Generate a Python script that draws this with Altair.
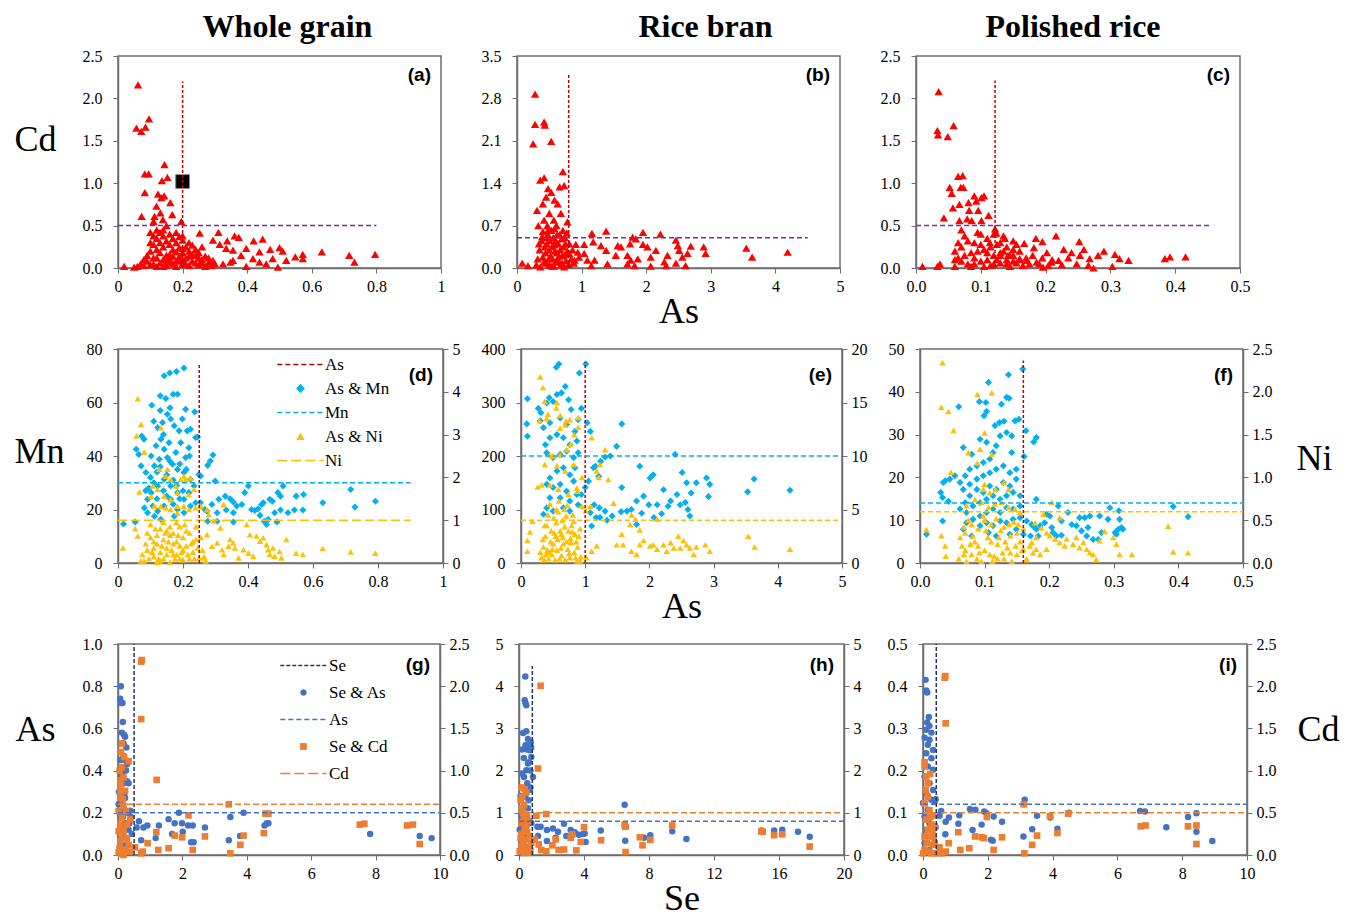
import altair as alt
import pandas as pd

SERIF = "Liberation Serif"
SANS = "Liberation Sans"
AXC = "#6e6e6e"

RED = "#ff0000"; DRED = "#c00000"; PURPLE = "#7030a0"
SKY = "#00b0f0"; GOLD = "#ffc000"; BLUE = "#4472c4"; ORANGE = "#ed7d31"; NAVY = "#203864"

COLUMN_TITLES = ["Whole grain", "Rice bran", "Polished rice"]
PANEL_LABELS = ["(a)", "(b)", "(c)", "(d)", "(e)", "(f)", "(g)", "(h)", "(i)"]

# ---------------- row 1 : Cd vs As ----------------
A_PTS = [
    (0.062, 2.16), (0.057, 1.65), (0.072, 1.61), (0.085, 1.66), (0.096, 1.76),
    (0.083, 1.11), (0.095, 1.11), (0.144, 1.22), (0.083, 0.89), (0.073, 0.61),
    (0.136, 1.03), (0.153, 1.07), (0.124, 0.87), (0.134, 0.83), (0.143, 0.85), (0.162, 0.77),
    (0.119, 0.73), (0.131, 0.65), (0.113, 0.61), (0.168, 0.63), (0.139, 0.57), (0.110, 0.55), (0.196, 0.55),
    (0.019, 0.02), (0.253, 0.41), (0.311, 0.42), (0.338, 0.32), (0.361, 0.38), (0.374, 0.36), (0.420, 0.32),
    (0.448, 0.34), (0.294, 0.33), (0.315, 0.28), (0.335, 0.23), (0.356, 0.21), (0.397, 0.23), (0.438, 0.19),
    (0.471, 0.22), (0.500, 0.24), (0.510, 0.20), (0.549, 0.13), (0.572, 0.16), (0.572, 0.11), (0.631, 0.19),
    (0.716, 0.15), (0.732, 0.07), (0.796, 0.16), (0.495, 0.01), (0.397, 0.02), (0.459, 0.05), (0.418, 0.11),
    (0.381, 0.15), (0.348, 0.07), (0.325, 0.05), (0.284, 0.04), (0.294, 0.09), (0.356, 0.09), (0.521, 0.09),
    (0.479, 0.11), (0.438, 0.07),
    (0.05, 0.01), (0.06, 0.02), (0.07, 0.05), (0.08, 0.03), (0.09, 0.08), (0.10, 0.04), (0.11, 0.12),
    (0.12, 0.02), (0.13, 0.06), (0.14, 0.10), (0.15, 0.03), (0.16, 0.07), (0.17, 0.14), (0.18, 0.02),
    (0.19, 0.09), (0.20, 0.05), (0.21, 0.12), (0.22, 0.03), (0.23, 0.08), (0.24, 0.15), (0.25, 0.04),
    (0.26, 0.10), (0.27, 0.02), (0.28, 0.06), (0.29, 0.03), (0.10, 0.20), (0.11, 0.28), (0.12, 0.35),
    (0.10, 0.42), (0.13, 0.18), (0.14, 0.25), (0.15, 0.32), (0.16, 0.40), (0.14, 0.45), (0.15, 0.50),
    (0.17, 0.22), (0.18, 0.30), (0.19, 0.37), (0.20, 0.18), (0.21, 0.25), (0.20, 0.33), (0.22, 0.20),
    (0.23, 0.27), (0.24, 0.22), (0.25, 0.18), (0.26, 0.25), (0.12, 0.12), (0.13, 0.30), (0.16, 0.16),
    (0.18, 0.19), (0.19, 0.14), (0.20, 0.10), (0.22, 0.14), (0.24, 0.06), (0.12, 0.22), (0.15, 0.15),
    (0.17, 0.35), (0.18, 0.42), (0.16, 0.28), (0.14, 0.38), (0.11, 0.05), (0.09, 0.15), (0.08, 0.10),
    (0.10, 0.30), (0.13, 0.42), (0.21, 0.05), (0.23, 0.16), (0.17, 0.05), (0.19, 0.24), (0.20, 0.38),
    (0.25, 0.12), (0.27, 0.14), (0.28, 0.12), (0.30, 0.05), (0.26, 0.06), (0.15, 0.08), (0.14, 0.02),
    (0.16, 0.12), (0.18, 0.08), (0.12, 0.45), (0.11, 0.38), (0.22, 0.30), (0.20, 0.23),
]
A_MARKER = [(0.2, 1.02)]
A_VLINE = [0.2, 0.0, 2.2]      # x, y from, y to
A_HLINE = [0.5, 0.0, 0.8]      # y, x from, x to

B_PTS = [
    (0.28, 2.87), (0.28, 2.37), (0.42, 2.41), (0.43, 2.36), (0.25, 2.05), (0.53, 2.09), (0.71, 1.59),
    (0.73, 1.36), (0.66, 1.34), (0.42, 1.49), (0.36, 1.45), (0.31, 0.95), (0.33, 0.70), (0.48, 1.31),
    (0.53, 1.25), (0.45, 1.17), (0.40, 1.06), (0.58, 1.12), (0.63, 1.06), (0.68, 0.90), (0.50, 0.90),
    (0.57, 0.79), (0.78, 0.76), (0.42, 0.79), (0.48, 0.62), (0.08, 0.08), (0.17, 0.04), (1.16, 0.57),
    (1.38, 0.61), (1.95, 0.59), (2.22, 0.56), (1.79, 0.51), (1.84, 0.48), (1.04, 0.39), (0.91, 0.39),
    (1.18, 0.43), (1.30, 0.37), (1.38, 0.29), (1.56, 0.37), (1.61, 0.35), (1.75, 0.40), (1.95, 0.39),
    (2.02, 0.35), (2.15, 0.29), (2.46, 0.46), (2.49, 0.37), (2.51, 0.29), (2.69, 0.36), (2.89, 0.35),
    (2.92, 0.24), (3.55, 0.33), (3.64, 0.18), (4.19, 0.26), (1.53, 0.21), (1.71, 0.21), (1.76, 0.13),
    (1.87, 0.15), (2.07, 0.18), (2.33, 0.21), (2.28, 0.10), (2.31, 0.04), (2.46, 0.08), (2.61, 0.04),
    (2.56, 0.18), (2.64, 0.24), (2.07, 0.03), (1.71, 0.07), (1.82, 0.04), (1.40, 0.07), (1.15, 0.04),
    (1.09, 0.13), (0.96, 0.18), (1.20, 0.13), (1.04, 0.24), (0.89, 0.13), (0.94, 0.26), (0.81, 0.24),
    (0.30, 0.05), (0.32, 0.15), (0.35, 0.30), (0.38, 0.45), (0.40, 0.60), (0.42, 0.10), (0.44, 0.25),
    (0.46, 0.40), (0.48, 0.55), (0.50, 0.05), (0.52, 0.20), (0.54, 0.35), (0.56, 0.50), (0.58, 0.65),
    (0.60, 0.10), (0.62, 0.25), (0.64, 0.40), (0.66, 0.55), (0.68, 0.05), (0.70, 0.20), (0.72, 0.35),
    (0.74, 0.50), (0.76, 0.12), (0.78, 0.28), (0.80, 0.06), (0.36, 0.02), (0.40, 0.18), (0.45, 0.08),
    (0.50, 0.30), (0.55, 0.15), (0.60, 0.45), (0.65, 0.20), (0.70, 0.08), (0.75, 0.40), (0.43, 0.35),
    (0.47, 0.70), (0.53, 0.62), (0.57, 0.03), (0.63, 0.12), (0.67, 0.30), (0.73, 0.02), (0.39, 0.52),
    (0.51, 0.45), (0.59, 0.28), (0.61, 0.70), (0.69, 0.48), (0.77, 0.58), (0.84, 0.15), (0.86, 0.30),
    (0.88, 0.08), (0.34, 0.40), (0.49, 0.15), (0.54, 0.03), (0.62, 0.55), (0.71, 0.62), (0.45, 0.50),
    (0.58, 0.38), (0.66, 0.10), (0.74, 0.22), (0.81, 0.40),
]
B_VLINE = [0.8, 0.0, 3.22]
B_HLINE = [0.5, 0.0, 4.5]

C_PTS = [
    (0.035, 2.08), (0.033, 1.62), (0.034, 1.57), (0.049, 1.55), (0.058, 1.68), (0.065, 1.08), (0.072, 1.09),
    (0.052, 0.95), (0.055, 0.88), (0.069, 0.95), (0.073, 0.95), (0.043, 0.59), (0.057, 0.71), (0.067, 0.75),
    (0.067, 0.56), (0.090, 0.85), (0.093, 0.79), (0.101, 0.83), (0.105, 0.85), (0.081, 0.77), (0.082, 0.68),
    (0.096, 0.68), (0.112, 0.62), (0.101, 0.56), (0.086, 0.56), (0.079, 0.58), (0.010, 0.02), (0.037, 0.05),
    (0.033, 0.02), (0.216, 0.38), (0.185, 0.35), (0.195, 0.31), (0.167, 0.29), (0.252, 0.31), (0.228, 0.22),
    (0.240, 0.18), (0.259, 0.22), (0.290, 0.20), (0.281, 0.15), (0.307, 0.16), (0.314, 0.11), (0.328, 0.09),
    (0.384, 0.11), (0.392, 0.13), (0.416, 0.13), (0.303, 0.02), (0.274, 0.00), (0.266, 0.03), (0.248, 0.05),
    (0.202, 0.18), (0.182, 0.24), (0.150, 0.22), (0.137, 0.35), (0.124, 0.41), (0.122, 0.46), (0.160, 0.11),
    (0.171, 0.09), (0.186, 0.07), (0.204, 0.03), (0.220, 0.09), (0.209, 0.07), (0.196, 0.01), (0.253, 0.15),
    (0.268, 0.11), (0.142, 0.15), (0.130, 0.18), (0.114, 0.30),
    (0.060, 0.02), (0.065, 0.12), (0.070, 0.25), (0.075, 0.38), (0.080, 0.05), (0.085, 0.18), (0.090, 0.30),
    (0.095, 0.42), (0.100, 0.08), (0.105, 0.22), (0.110, 0.35), (0.115, 0.03), (0.120, 0.15), (0.125, 0.28),
    (0.130, 0.06), (0.135, 0.20), (0.140, 0.10), (0.145, 0.02), (0.150, 0.15), (0.155, 0.06), (0.160, 0.20),
    (0.165, 0.03), (0.170, 0.12), (0.175, 0.05), (0.180, 0.15), (0.060, 0.20), (0.070, 0.08), (0.080, 0.32),
    (0.090, 0.12), (0.100, 0.28), (0.110, 0.10), (0.120, 0.40), (0.130, 0.30), (0.140, 0.25), (0.150, 0.32),
    (0.070, 0.45), (0.085, 0.02), (0.095, 0.20), (0.105, 0.02), (0.115, 0.25), (0.125, 0.10), (0.135, 0.38),
    (0.145, 0.15), (0.155, 0.28), (0.065, 0.30), (0.075, 0.15), (0.090, 0.05), (0.100, 0.40), (0.110, 0.18),
    (0.120, 0.05), (0.130, 0.15), (0.140, 0.05), (0.150, 0.08), (0.160, 0.10), (0.190, 0.05), (0.195, 0.12),
    (0.210, 0.10), (0.225, 0.04), (0.235, 0.12), (0.060, 0.10),
]
C_VLINE = [0.122, 0.0, 2.21]
C_HLINE = [0.5, 0.0, 0.453]

# ---------------- row 2 : Mn (left) & Ni (right) vs As ----------------
D_MN = [
    (0.017, 14.6), (0.053, 15.3), (0.142, 70), (0.159, 71), (0.18, 71.6), (0.203, 72.9), (0.13, 62.5),
    (0.147, 61.5), (0.17, 63.1), (0.183, 63.1), (0.104, 59), (0.208, 57.5), (0.236, 56.5), (0.056, 42.5),
    (0.064, 40.6), (0.073, 47.5), (0.08, 46.3), (0.071, 36.3), (0.086, 33.8), (0.122, 50.6), (0.137, 52.5),
    (0.152, 55.6), (0.162, 53.8), (0.173, 51.3), (0.188, 49.4), (0.198, 53.8), (0.213, 49.4), (0.223, 50),
    (0.239, 46.9), (0.245, 47.1), (0.218, 43.1), (0.208, 39.4), (0.193, 45), (0.178, 41.3), (0.157, 45),
    (0.142, 42.5), (0.132, 46.3), (0.117, 43.8), (0.102, 40), (0.112, 36.3), (0.127, 38.8), (0.152, 39.4),
    (0.168, 36.9), (0.183, 35), (0.203, 33.8), (0.223, 31.3), (0.234, 28.8), (0.218, 26.3), (0.203, 23.8),
    (0.183, 26.3), (0.162, 28.8), (0.142, 31.3), (0.122, 28.8), (0.102, 26.3), (0.091, 23.8), (0.107, 21.3),
    (0.122, 19.4), (0.142, 21.3), (0.162, 23.8), (0.183, 20), (0.203, 18.8), (0.223, 21.3), (0.239, 22.5),
    (0.091, 18.8), (0.081, 20.6), (0.112, 17.5), (0.173, 17.5), (0.132, 16.3),
    (0.10, 32), (0.11, 30), (0.12, 34), (0.13, 36), (0.14, 27), (0.15, 33), (0.16, 38), (0.17, 31),
    (0.18, 29), (0.19, 37), (0.20, 27), (0.21, 35), (0.22, 40), (0.12, 24), (0.15, 25), (0.17, 22),
    (0.19, 24), (0.095, 28), (0.085, 27), (0.14, 48), (0.16, 58), (0.11, 53), (0.13, 57),
    (0.249, 33.1), (0.254, 32.5), (0.276, 36.5), (0.284, 38.1), (0.292, 40.4), (0.299, 30.6), (0.254, 22.5),
    (0.267, 20), (0.289, 21.9), (0.31, 23.8), (0.33, 25), (0.345, 24), (0.355, 22.8), (0.365, 21.3),
    (0.355, 18.8), (0.333, 19.8), (0.305, 18.8), (0.274, 19.4), (0.276, 15.6), (0.305, 15.6), (0.355, 15.3),
    (0.381, 21.9), (0.401, 28.8), (0.39, 26.3), (0.411, 20), (0.421, 19.6), (0.431, 20.3), (0.442, 21.9),
    (0.447, 22.5), (0.437, 17.8), (0.45, 15.6), (0.457, 14.4), (0.462, 16.3), (0.467, 23.8), (0.475, 23.1),
    (0.482, 18.8), (0.492, 26.3), (0.5, 25), (0.508, 28.8), (0.489, 15.3), (0.5, 19.8), (0.523, 18.8),
    (0.543, 19.8), (0.548, 25), (0.571, 25.6), (0.569, 19.8), (0.63, 22.5), (0.716, 27.5), (0.729, 20.9),
    (0.792, 23.1),
]
D_NI = [
    (0.061, 3.84), (0.071, 3.24), (0.057, 2.97), (0.081, 2.59), (0.066, 1.66), (0.015, 0.35), (0.053, 0.80),
    (0.061, 0.63), (0.132, 3.16), (0.127, 2.19), (0.152, 2.19), (0.147, 2.03), (0.162, 1.95), (0.178, 1.8),
    (0.183, 1.64), (0.193, 1.95), (0.203, 2.03), (0.208, 1.95), (0.223, 1.99), (0.234, 1.72), (0.218, 1.6),
    (0.203, 1.33), (0.183, 1.33), (0.162, 1.48), (0.142, 1.56), (0.122, 1.72), (0.107, 1.8), (0.102, 1.56),
    (0.112, 1.33), (0.132, 1.33), (0.147, 1.29), (0.162, 1.25), (0.183, 1.17), (0.218, 1.25), (0.239, 1.29),
    (0.254, 1.33), (0.274, 1.25), (0.325, 1.37), (0.279, 1.13), (0.294, 0.98), (0.315, 0.82),
    (0.264, 0.12), (0.274, 0.66), (0.289, 0.39), (0.305, 0.47), (0.32, 0.31), (0.325, 0.2), (0.34, 0.39),
    (0.345, 0.55), (0.355, 0.47), (0.36, 0.35), (0.371, 0.12), (0.386, 0.31), (0.396, 0.9), (0.401, 0.23),
    (0.406, 0.66), (0.416, 0.16), (0.426, 0.63), (0.437, 0.51), (0.447, 0.59), (0.457, 0.43), (0.462, 0.31),
    (0.467, 0.2), (0.477, 0.35), (0.482, 0.16), (0.497, 0.27), (0.503, 0.12), (0.518, 0.55), (0.548, 0.23),
    (0.569, 0.2), (0.63, 0.34), (0.716, 0.26), (0.792, 0.23),
    (0.08, 0.05), (0.09, 0.3), (0.10, 0.6), (0.11, 0.15), (0.12, 0.45), (0.13, 0.8), (0.14, 0.1),
    (0.15, 0.35), (0.16, 0.65), (0.17, 0.2), (0.18, 0.5), (0.19, 0.85), (0.20, 0.08), (0.21, 0.4),
    (0.22, 0.7), (0.23, 0.25), (0.24, 0.55), (0.25, 0.12), (0.26, 0.3), (0.27, 0.05), (0.10, 0.9),
    (0.12, 0.02), (0.14, 0.55), (0.16, 0.02), (0.18, 0.2), (0.20, 0.6), (0.22, 0.1), (0.24, 0.85),
    (0.09, 0.7), (0.11, 0.5), (0.13, 0.25), (0.15, 0.75), (0.17, 0.45), (0.19, 0.1), (0.21, 0.75),
    (0.23, 0.5), (0.12, 0.65), (0.14, 0.95), (0.16, 0.85), (0.18, 0.95), (0.20, 0.3), (0.13, 0.05),
    (0.15, 0.2), (0.17, 0.7), (0.19, 0.4), (0.11, 0.35), (0.085, 0.45), (0.095, 0.1), (0.105, 0.25),
    (0.115, 0.8), (0.125, 0.1), (0.135, 0.4), (0.145, 0.7), (0.155, 0.5), (0.165, 0.3), (0.175, 0.1),
    (0.185, 0.65), (0.195, 0.25), (0.205, 0.9), (0.215, 0.2), (0.225, 0.45), (0.235, 0.1), (0.245, 0.35),
    (0.255, 0.6), (0.265, 0.15), (0.075, 0.2), (0.07, 0.05),
]
D_VLINE = [0.25, 0.0, 74.4]
D_MN_LINE = [30, 0.0, 0.9]
D_NI_LINE = [1.0, 0.0, 0.9]

E_MN = [
    (0.55, 366), (0.59, 372), (0.91, 355), (1.01, 372), (0.10, 307), (0.09, 260), (0.10, 237), (0.27, 289),
    (0.31, 281), (0.44, 309), (0.40, 299), (0.50, 302), (0.56, 315), (0.63, 318), (0.69, 330), (0.74, 305),
    (0.78, 287), (0.94, 289), (0.89, 268), (1.03, 262), (1.08, 246), (0.30, 266), (0.35, 253), (0.45, 262),
    (0.61, 271), (0.71, 259), (0.84, 246), (0.87, 228), (0.76, 221), (0.66, 234), (0.56, 240), (0.45, 234),
    (0.38, 221), (0.40, 206), (0.50, 197), (0.61, 203), (0.71, 209), (0.82, 197), (0.89, 206), (0.84, 178),
    (0.76, 165), (0.66, 178), (0.56, 172), (0.45, 159), (0.40, 147), (0.50, 141), (0.61, 147), (0.71, 134),
    (0.82, 153), (0.87, 128), (0.76, 116), (0.61, 122), (0.45, 122), (0.40, 103), (0.35, 91), (0.50, 97),
    (0.66, 103), (0.76, 97), (0.89, 109), (0.94, 128), (1.00, 141), (1.05, 153),
    (1.13, 178), (1.16, 181), (1.24, 190), (1.21, 162), (1.31, 198), (1.49, 218), (1.39, 200), (1.57, 260),
    (1.57, 141), (1.85, 181), (2.01, 159), (2.06, 165), (2.22, 137), (2.40, 203), (2.51, 169), (2.58, 150),
    (2.65, 131), (2.73, 150), (2.89, 159), (2.94, 147), (2.92, 124), (3.53, 133), (3.63, 157), (4.19, 136),
    (1.80, 116), (1.91, 125), (1.99, 109), (2.12, 109), (2.19, 92), (2.29, 106), (2.33, 116), (2.43, 128),
    (2.48, 109), (2.56, 113), (2.60, 100), (2.63, 88), (2.07, 85), (1.88, 93), (1.80, 72), (1.72, 100),
    (1.65, 97), (1.56, 96), (1.42, 88), (1.31, 97), (1.22, 103), (1.14, 109), (1.10, 69), (1.08, 94),
    (1.17, 85), (1.23, 85), (1.34, 80),
]
E_NI = [
    (0.30, 17.4), (0.34, 16.4), (0.29, 13.3), (0.40, 13.5), (0.42, 13.9), (0.37, 15.1), (0.56, 15.0),
    (0.55, 14.5), (0.61, 13.8), (0.70, 13.3), (0.61, 12.6), (0.69, 12.9), (0.76, 13.4), (0.83, 12.0),
    (0.89, 13.6), (0.89, 12.7), (0.77, 11.1), (0.71, 10.6), (0.61, 10.1), (0.50, 10.0), (0.45, 10.1),
    (0.37, 9.2), (0.56, 9.1), (0.69, 8.6), (0.82, 9.2), (0.95, 8.0), (0.87, 7.0), (0.26, 7.1), (0.32, 7.3),
    (0.45, 7.3), (0.58, 6.9), (0.74, 6.4), (0.88, 6.7), (0.95, 5.3), (1.01, 4.9), (1.08, 5.3), (1.10, 11.7),
    (1.18, 8.6), (1.21, 8.0), (1.23, 9.2), (1.31, 10.6), (1.36, 7.8), (1.44, 5.6), (1.72, 4.5), (1.78, 4.1),
    (1.85, 3.1), (1.70, 3.6), (1.57, 2.7), (1.49, 1.7), (1.59, 1.7), (1.72, 1.1), (1.80, 0.8), (1.85, 1.7),
    (1.91, 2.1), (2.01, 1.6), (2.06, 1.7), (2.12, 1.3), (2.22, 1.7), (2.27, 1.1), (2.33, 1.9), (2.38, 1.4),
    (2.45, 2.5), (2.48, 1.4), (2.53, 2.1), (2.58, 1.7), (2.63, 1.4), (2.69, 0.8), (2.73, 1.5), (2.87, 1.7),
    (2.94, 1.1), (2.12, 4.1), (3.54, 2.5), (3.64, 1.5), (4.19, 1.3), (1.18, 1.6), (1.10, 1.1), (1.02, 0.5),
    (0.92, 0.2), (0.14, 2.9), (0.10, 2.1), (0.10, 1.1), (0.18, 3.9),
    (0.32, 0.5), (0.35, 1.5), (0.38, 2.5), (0.40, 3.5), (0.42, 4.5), (0.45, 5.5), (0.48, 0.8), (0.50, 1.8),
    (0.52, 2.8), (0.55, 3.8), (0.58, 4.8), (0.60, 0.4), (0.62, 1.4), (0.65, 2.4), (0.68, 3.4), (0.70, 4.4),
    (0.72, 5.4), (0.75, 0.9), (0.78, 1.9), (0.80, 2.9), (0.82, 3.9), (0.85, 0.5), (0.88, 1.5), (0.90, 2.5),
    (0.92, 3.2), (0.36, 0.3), (0.44, 1.0), (0.46, 2.0), (0.53, 0.3), (0.56, 1.2), (0.63, 0.7), (0.66, 1.8),
    (0.69, 0.3), (0.73, 1.3), (0.77, 2.3), (0.83, 1.0), (0.86, 2.0), (0.41, 1.2), (0.47, 3.0), (0.57, 2.2),
    (0.61, 3.0), (0.67, 5.0), (0.71, 2.0), (0.79, 3.5), (0.34, 2.2), (0.39, 0.8), (0.51, 4.2), (0.59, 5.8),
    (0.64, 4.0), (0.74, 3.0), (0.81, 4.5), (0.87, 0.2), (0.93, 0.6), (0.43, 0.4), (0.49, 1.3), (0.54, 2.5),
    (0.63, 2.7), (0.76, 0.5), (0.84, 2.7), (0.37, 3.5), (0.55, 5.0), (0.30, 1.0),
]
E_VLINE = [1.0, 0.0, 376]
E_MN_LINE = [200, 0.0, 5.0]
E_NI_LINE = [4.0, 0.0, 5.0]

F_MN = [
    (0.01, 6.7), (0.035, 9.8), (0.036, 18.8), (0.039, 19.2), (0.032, 16.5), (0.035, 15.3), (0.044, 14.4),
    (0.046, 19.6), (0.054, 20.4), (0.159, 45.3), (0.137, 44.0), (0.106, 42.2), (0.134, 38.7), (0.138, 38.5),
    (0.126, 37.1), (0.092, 37.7), (0.102, 37.5), (0.103, 35.4), (0.099, 34.4), (0.06, 36.5), (0.067, 27.0),
    (0.08, 25.4), (0.093, 28.9), (0.103, 28.2), (0.116, 32.1), (0.123, 32.8), (0.13, 33.1), (0.147, 33.2),
    (0.153, 33.6), (0.164, 30.9), (0.18, 29.3), (0.176, 28.3), (0.161, 24.9), (0.142, 25.8), (0.142, 29.7),
    (0.134, 30.5), (0.124, 29.7), (0.118, 27.4), (0.113, 25.8), (0.108, 24.3), (0.098, 23.5), (0.088, 22.7),
    (0.077, 21.9), (0.07, 20.4), (0.062, 18.8), (0.067, 17.2), (0.077, 18.4), (0.088, 19.6), (0.098, 20.4),
    (0.108, 21.1), (0.118, 21.9), (0.129, 22.7), (0.139, 21.1), (0.149, 21.9), (0.149, 19.6), (0.139, 18.0),
    (0.129, 18.8), (0.118, 17.2), (0.108, 18.0), (0.098, 16.5), (0.088, 17.2), (0.077, 15.7), (0.07, 14.1),
    (0.062, 12.6), (0.072, 11.8), (0.082, 13.3), (0.093, 14.1), (0.103, 14.9), (0.113, 15.7), (0.124, 14.9),
    (0.134, 15.7), (0.144, 16.5), (0.155, 15.7), (0.155, 13.3), (0.144, 12.6), (0.134, 12.9), (0.124, 11.8),
    (0.113, 12.6), (0.103, 11.8), (0.093, 11.0), (0.082, 10.2), (0.072, 9.4), (0.067, 7.9), (0.08, 6.3),
    (0.093, 8.7), (0.103, 9.4), (0.113, 8.7), (0.124, 9.8), (0.134, 9.4), (0.144, 10.2), (0.155, 10.6),
    (0.149, 7.9), (0.139, 6.7), (0.118, 6.3), (0.106, 7.1), (0.16, 6.7),
    (0.18, 14.9), (0.165, 9.8), (0.173, 9.0), (0.18, 7.9), (0.186, 8.7), (0.193, 9.4), (0.196, 11.4),
    (0.201, 11.0), (0.204, 8.3), (0.206, 7.1), (0.211, 6.3), (0.219, 6.5), (0.214, 13.3), (0.219, 9.8),
    (0.229, 11.8), (0.235, 9.0), (0.242, 8.7), (0.247, 10.6), (0.25, 7.5), (0.255, 10.6), (0.26, 8.3),
    (0.263, 11.0), (0.258, 6.3), (0.268, 5.5), (0.276, 5.5), (0.278, 11.0), (0.281, 7.1), (0.291, 10.2),
    (0.294, 12.9), (0.302, 7.1), (0.304, 6.7), (0.307, 7.9), (0.309, 10.2), (0.312, 8.3), (0.314, 7.9),
    (0.308, 12.2), (0.392, 13.2), (0.415, 10.8), (0.183, 6.3), (0.176, 8.5), (0.171, 6.3),
]
F_NI = [
    (0.035, 2.34), (0.033, 1.82), (0.044, 1.77), (0.052, 1.55), (0.048, 1.06), (0.01, 0.39), (0.033, 0.32),
    (0.039, 0.20), (0.04, 0.08), (0.089, 1.97), (0.111, 1.99), (0.10, 1.52), (0.093, 1.33), (0.075, 1.29),
    (0.089, 1.17), (0.10, 0.92), (0.111, 1.27), (0.13, 0.94), (0.137, 0.86), (0.117, 0.86), (0.108, 0.82),
    (0.098, 0.86), (0.085, 0.74), (0.072, 0.67), (0.095, 0.71), (0.106, 0.65), (0.116, 0.69), (0.126, 0.71),
    (0.137, 0.65), (0.147, 0.63), (0.155, 0.59), (0.204, 0.71), (0.191, 0.57), (0.216, 0.53), (0.178, 0.47),
    (0.188, 0.41), (0.196, 0.35), (0.201, 0.32), (0.209, 0.28), (0.216, 0.24), (0.224, 0.2), (0.227, 0.28),
    (0.237, 0.22), (0.242, 0.3), (0.247, 0.18), (0.253, 0.24), (0.258, 0.16), (0.263, 0.12), (0.268, 0.10),
    (0.273, 0.04), (0.278, 0.26), (0.286, 0.37), (0.299, 0.3), (0.304, 0.22), (0.309, 0.1), (0.328, 0.1),
    (0.384, 0.43), (0.392, 0.13), (0.415, 0.12), (0.196, 0.16), (0.186, 0.10), (0.18, 0.16), (0.173, 0.24),
    (0.165, 0.04), (0.16, 0.16),
    (0.06, 0.05), (0.065, 0.2), (0.07, 0.35), (0.075, 0.5), (0.08, 0.1), (0.085, 0.25), (0.09, 0.4),
    (0.095, 0.02), (0.10, 0.15), (0.105, 0.3), (0.11, 0.45), (0.115, 0.08), (0.12, 0.22), (0.125, 0.38),
    (0.13, 0.05), (0.135, 0.18), (0.14, 0.32), (0.145, 0.48), (0.15, 0.1), (0.155, 0.25), (0.16, 0.4),
    (0.165, 0.05), (0.17, 0.2), (0.175, 0.12), (0.18, 0.3), (0.07, 0.15), (0.08, 0.45), (0.09, 0.2),
    (0.10, 0.5), (0.11, 0.25), (0.12, 0.05), (0.13, 0.42), (0.14, 0.12), (0.15, 0.35), (0.062, 0.3),
    (0.072, 0.02), (0.082, 0.32), (0.092, 0.12), (0.102, 0.38), (0.112, 0.02), (0.122, 0.3), (0.132, 0.25),
    (0.142, 0.02), (0.152, 0.45), (0.098, 0.55), (0.118, 0.52), (0.128, 0.12), (0.138, 0.45), (0.088, 0.05),
    (0.078, 0.22), (0.068, 0.42), (0.158, 0.15), (0.148, 0.2), (0.108, 0.1), (0.068, 0.1),
]
F_VLINE = [0.16, 0.0, 47.3]
F_MN_LINE = [14, 0.0, 0.5]
F_NI_LINE = [0.6, 0.0, 0.5]

# ---------------- row 3 : As (left) & Cd (right) vs Se ----------------
G_AS = [
    (0.09, 0.80), (0.07, 0.74), (0.10, 0.72), (0.14, 0.72), (0.15, 0.63), (0.12, 0.58), (0.19, 0.57),
    (0.22, 0.56), (0.17, 0.53), (0.26, 0.51), (0.17, 0.47), (0.22, 0.45), (0.28, 0.43), (0.19, 0.40),
    (0.28, 0.35), (0.33, 0.34), (0.17, 0.34), (0.12, 0.30), (0.22, 0.27), (0.38, 0.21), (0.02, 0.24),
    (0.07, 0.18), (0.12, 0.14), (0.17, 0.11), (0.22, 0.08), (0.28, 0.05), (0.07, 0.08), (0.33, 0.12),
    (0.43, 0.10), (0.05, 0.03), (0.17, 0.02), (0.05, 0.20), (0.10, 0.25), (0.15, 0.30), (0.20, 0.35),
    (0.25, 0.40), (0.08, 0.45), (0.12, 0.38), (0.18, 0.22), (0.22, 0.15), (0.05, 0.12), (0.10, 0.05),
    (0.15, 0.18), (0.20, 0.28), (0.03, 0.30), (0.06, 0.40), (0.30, 0.20), (0.35, 0.15), (0.40, 0.18),
    (0.58, 0.13), (0.65, 0.16), (0.72, 0.07), (0.79, 0.13), (0.91, 0.14), (1.17, 0.08), (1.27, 0.14),
    (1.57, 0.17), (1.68, 0.10), (1.76, 0.15), (1.89, 0.20), (1.99, 0.15), (2.01, 0.11), (2.18, 0.14),
    (2.27, 0.06), (2.32, 0.14), (2.35, 0.06), (2.70, 0.13), (3.44, 0.07), (3.49, 0.18), (3.90, 0.20),
    (3.79, 0.09), (4.55, 0.14), (4.62, 0.15), (4.67, 0.15), (7.83, 0.10), (9.37, 0.09), (9.74, 0.08),
]
G_CD = [
    (0.74, 2.31), (0.72, 2.29), (0.72, 1.61), (1.20, 0.89), (0.33, 1.11), (0.09, 1.22), (0.12, 1.04),
    (0.09, 0.84), (0.07, 0.76), (0.15, 0.66), (0.38, 0.42), (0.53, 0.09), (0.72, 0.02), (0.77, 0.04),
    (0.92, 0.14), (1.19, 0.27), (1.25, 0.06), (1.57, 0.08), (1.76, 0.23), (1.99, 0.21), (2.19, 0.47),
    (2.32, 0.06), (2.70, 0.22), (3.44, 0.60), (3.49, 0.02), (3.80, 0.12), (3.90, 0.23), (4.53, 0.26),
    (4.58, 0.49), (4.67, 0.49), (7.51, 0.36), (7.65, 0.37), (8.98, 0.35), (9.16, 0.36), (9.37, 0.13),
    (0.05, 0.08), (0.07, 0.16), (0.12, 0.20), (0.17, 0.28), (0.07, 0.36), (0.12, 0.44), (0.02, 0.52),
    (0.17, 0.58), (0.09, 0.68), (0.22, 0.76), (0.17, 0.92), (0.05, 1.00), (0.19, 1.16), (0.12, 1.32),
    (0.07, 0.88), (0.28, 0.20), (0.33, 0.12), (0.38, 0.04), (0.22, 0.06), (0.12, 0.02), (0.02, 0.03),
    (0.17, 0.00), (0.28, 0.36), (0.25, 0.52), (0.02, 0.28),
]
G_VLINE = [0.5, 0.0, 1.0]
G_AS_LINE = [0.2, 0.0, 10.0]
G_CD_LINE = [0.6, 0.0, 10.0]

H_AS = [
    (0.39, 4.23), (0.35, 3.67), (0.39, 3.61), (0.45, 3.55), (0.25, 2.89), (0.45, 2.93), (0.55, 2.75),
    (0.72, 2.68), (0.66, 2.48), (0.76, 2.32), (0.55, 2.17), (0.45, 2.01), (0.31, 1.85), (0.18, 1.93),
    (0.86, 1.85), (0.51, 1.70), (0.66, 1.54), (0.39, 1.38), (0.55, 1.11), (0.76, 0.76), (0.66, 0.80),
    (0.14, 0.92), (0.04, 0.60), (0.25, 0.52), (0.18, 0.29), (0.45, 0.68), (0.35, 0.45), (0.55, 0.13),
    (0.14, 0.05), (0.20, 2.50), (0.30, 2.30), (0.50, 2.50), (0.60, 2.20), (0.70, 2.00), (0.40, 1.60),
    (0.60, 1.30), (0.30, 1.10), (0.50, 0.90), (0.20, 0.70), (0.70, 1.60), (0.10, 1.40), (0.40, 2.60),
    (0.60, 2.60), (0.75, 2.55),
    (1.13, 0.67), (1.33, 0.67), (1.17, 0.45), (1.72, 0.59), (1.72, 0.33), (2.09, 0.63), (2.40, 0.55),
    (2.26, 0.41), (2.77, 0.74), (2.91, 0.45), (3.18, 0.59), (3.43, 0.54), (3.69, 0.48), (3.94, 0.50),
    (4.04, 0.51), (4.10, 0.31), (5.03, 0.58), (6.50, 1.19), (6.58, 0.67), (6.54, 0.34), (7.69, 0.41),
    (8.08, 0.47), (9.43, 0.56), (10.30, 0.38), (14.91, 0.58), (15.70, 0.58), (16.20, 0.60), (17.17, 0.55),
    (17.89, 0.43),
]
H_CD = [
    (1.33, 4.01), (1.17, 2.05), (0.16, 1.60), (0.35, 1.56), (0.45, 1.48), (1.07, 0.93), (1.68, 0.97),
    (0.20, 1.38), (0.31, 1.19), (0.25, 0.99), (0.14, 0.76), (0.35, 0.60), (0.45, 0.37), (0.18, 0.21),
    (0.55, 0.05), (0.04, 0.09), (0.76, 0.29), (0.66, 0.45), (0.96, 0.37), (1.21, 0.25), (1.37, 0.12),
    (1.68, 0.09), (2.05, 0.23), (2.26, 0.37), (2.44, 0.12), (2.77, 0.13), (3.18, 0.41), (3.28, 0.49),
    (3.53, 0.11), (3.80, 0.31), (4.00, 0.66), (5.05, 0.35), (6.50, 0.72), (6.54, 0.67), (6.56, 0.07),
    (7.44, 0.42), (7.60, 0.23), (8.08, 0.36), (9.43, 0.70), (14.91, 0.56), (15.00, 0.55), (15.70, 0.47),
    (16.20, 0.49), (17.89, 0.20),
    (0.10, 1.30), (0.20, 1.10), (0.30, 0.85), (0.40, 0.70), (0.50, 0.55), (0.15, 0.50), (0.25, 0.30),
    (0.35, 0.15), (0.60, 0.20), (0.70, 0.10), (0.10, 0.40), (0.20, 0.20), (0.30, 0.05), (0.45, 0.95),
    (0.55, 0.80),
]
H_VLINE = [0.82, 0.0, 4.48]
H_AS_LINE = [0.8, 0.0, 20.0]
H_CD_LINE = [1.0, 0.0, 20.0]

I_AS = [
    (0.08, 0.415), (0.10, 0.39), (0.13, 0.385), (0.18, 0.327), (0.13, 0.314), (0.20, 0.306), (0.10, 0.297),
    (0.26, 0.29), (0.05, 0.278), (0.20, 0.273), (0.15, 0.261), (0.31, 0.249), (0.10, 0.241), (0.26, 0.229),
    (0.15, 0.21), (0.31, 0.202), (0.05, 0.186), (0.20, 0.17), (0.31, 0.154), (0.10, 0.146), (0.26, 0.131),
    (0.00, 0.123), (0.36, 0.127), (0.15, 0.107), (0.05, 0.091), (0.20, 0.075), (0.10, 0.059), (0.31, 0.044),
    (0.05, 0.028), (0.20, 0.012), (0.39, 0.066), (0.39, 0.132),
    (0.56, 0.104), (0.51, 0.093), (0.70, 0.079), (0.80, 0.089), (0.69, 0.049), (1.12, 0.094), (1.09, 0.074),
    (1.45, 0.109), (1.62, 0.107), (1.53, 0.059), (1.81, 0.072), (1.89, 0.103), (1.96, 0.099), (2.10, 0.036),
    (2.15, 0.034), (2.18, 0.091), (2.44, 0.079), (3.10, 0.044), (3.14, 0.131), (3.37, 0.061), (3.52, 0.093),
    (3.93, 0.089), (4.15, 0.062), (4.50, 0.100), (6.70, 0.104), (6.85, 0.103), (7.51, 0.066), (8.18, 0.090),
    (8.44, 0.055), (8.44, 0.099), (8.93, 0.033),
]
I_CD = [
    (0.69, 2.12), (0.67, 2.10), (0.70, 1.56), (0.05, 1.10), (0.22, 0.96), (0.26, 0.36), (0.22, 0.45),
    (0.31, 0.47), (0.36, 0.34), (0.33, 0.22), (0.31, 0.12), (0.18, 0.04), (0.41, 0.02), (0.51, 0.09),
    (0.59, 0.02), (0.70, 0.04), (0.79, 0.14), (1.09, 0.27), (1.15, 0.06), (1.43, 0.08), (1.61, 0.22),
    (1.81, 0.21), (1.88, 0.20), (1.97, 0.45), (2.18, 0.06), (2.44, 0.21), (3.11, 0.60), (3.13, 0.02),
    (3.37, 0.12), (3.52, 0.23), (3.92, 0.46), (4.15, 0.26), (4.48, 0.49), (6.72, 0.34), (6.87, 0.35),
    (8.18, 0.34), (8.44, 0.35), (8.44, 0.13),
    (0.05, 1.05), (0.10, 0.93), (0.15, 0.85), (0.08, 0.77), (0.15, 0.69), (0.05, 0.61), (0.20, 0.53),
    (0.10, 0.42), (0.15, 0.30), (0.05, 0.22), (0.12, 0.14), (0.05, 0.06), (0.20, 0.22), (0.29, 0.30),
    (0.36, 0.14), (0.00, 0.02), (0.26, 0.02),
]
I_VLINE = [0.41, 0.0, 0.5]
I_AS_LINE = [0.12, 0.0, 10.0]
I_CD_LINE = [0.5, 0.0, 10.0]

D_LEGEND = ["As", "As & Mn", "Mn", "As & Ni", "Ni"]
G_LEGEND = ["Se", "Se & As", "As", "Se & Cd", "Cd"]


# ---------------- helpers ----------------
def dash_path(dash, gap, half=5.8, th=0.2):
    segs = []
    x = -half
    while x < half - 1e-9:
        x2 = min(x + dash, half)
        segs.append("M%.2f,%.2fH%.2fV%.2fH%.2fZ" % (x, -th, x2, th, x))
        x = x2 + gap
    return "".join(segs)


TRI = "M0,-0.95L1.05,0.85L-1.05,0.85Z"
DIA = "M0,-1.1L1.1,0L0,1.1L-1.1,0Z"
CIRC = "M-0.8,0A0.8,0.8 0 1,0 0.8,0A0.8,0.8 0 1,0 -0.8,0Z"
SQR = "M-0.85,-0.85H0.85V0.85H-0.85Z"
NUM = "~r"


def pts_df(pairs):
    return pd.DataFrame(pairs, columns=["x", "y"])


def sc(lo, hi):
    return alt.Scale(domain=[lo, hi], nice=False, zero=False)


def x_axis(vals, fmt=NUM, title=None):
    d = dict(values=vals, grid=False, labelFont=SERIF, labelFontSize=16, labelColor="black",
             domainColor=AXC, domainWidth=1.5, tickColor=AXC, tickWidth=1, tickSize=5,
             labelPadding=5, labelFlush=False, labelOverlap=False, format=fmt)
    if title:
        d.update(title=title, titleFont=SERIF, titleFontSize=36, titleFontWeight="normal",
                 titleColor="black", titlePadding=0)
    else:
        d["title"] = None
    return alt.Axis(**d)


def y_axis(vals, fmt=NUM, orient="left", title=None, tx=0, ty=0):
    d = dict(values=vals, orient=orient, grid=False, labelFont=SERIF, labelFontSize=16,
             labelColor="black", domainColor=AXC, domainWidth=1.5, tickColor=AXC, tickWidth=1,
             tickSize=5, labelPadding=11 if orient == "left" else 4, labelOverlap=False, format=fmt)
    if title:
        d.update(title=title, titleAngle=0, titleAlign="left", titleBaseline="middle",
                 titleX=tx, titleY=ty, titleFont=SERIF, titleFontSize=36,
                 titleFontWeight="normal", titleColor="black")
    else:
        d["title"] = None
    return alt.Axis(**d)


def plabel(text, off):
    return alt.TitleParams(text, anchor="end", frame="group", offset=off, dx=-10,
                           font=SANS, fontSize=19, fontWeight="bold", color="black")


def vrule(spec, X, Y, color, dash):
    d = pd.DataFrame({"x": [spec[0]], "y": [spec[1]], "y2": [spec[2]]})
    return alt.Chart(d).mark_rule(color=color, strokeDash=dash, strokeWidth=1.5).encode(
        x=X, y=Y, y2=alt.Y2("y2"))


def hrule(spec, X, Y, color, dash):
    d = pd.DataFrame({"y": [spec[0]], "x": [spec[1]], "x2": [spec[2]]})
    return alt.Chart(d).mark_rule(color=color, strokeDash=dash, strokeWidth=1.5).encode(
        y=Y, x=X, x2=alt.X2("x2"))


def legend_layer(entries, colors, shapes, lx, ly, rowpad, loff):
    leg = alt.Legend(title=None, orient="none", legendX=lx, legendY=ly, direction="vertical",
                     labelFont=SERIF, labelFontSize=17, labelColor="black", labelOffset=loff,
                     rowPadding=rowpad, symbolSize=64, symbolStrokeWidth=0, symbolOpacity=1,
                     padding=0)
    d = pd.DataFrame({"entry": entries})
    return alt.Chart(d).mark_point(filled=True, size=64, opacity=0).encode(
        color=alt.Color("entry:N", scale=alt.Scale(domain=entries, range=colors), legend=leg),
        shape=alt.Shape("entry:N", scale=alt.Scale(domain=entries, range=shapes), legend=leg),
    )


def single_panel(pts, vline, hline, xd, xv, xf, yd, yv, yf, w, h, lab, off,
                 ytitle=None, ytx=0, yty=0, xtitle=None, marker=None):
    X = alt.X("x:Q", scale=sc(*xd), axis=x_axis(xv, xf, xtitle))
    Y = alt.Y("y:Q", scale=sc(*yd), axis=y_axis(yv, yf, "left", ytitle, ytx, yty))
    layers = [alt.Chart(pts_df(pts)).mark_point(shape="triangle-up", filled=True, color=RED,
                                                 size=70, opacity=1, strokeWidth=0).encode(x=X, y=Y)]
    if marker:
        layers.append(alt.Chart(pts_df(marker)).mark_point(shape="square", filled=True, color="black",
                                                            size=190, opacity=1, stroke="#888888",
                                                            strokeWidth=1).encode(x=X, y=Y))
    layers.append(vrule(vline, X, Y, DRED, [3, 2]))
    layers.append(hrule(hline, X, Y, PURPLE, [5, 3]))
    return alt.layer(*layers).properties(width=w, height=h, title=plabel(lab, off))


def dual_panel(xd, xv, xf, xtitle, ld, lv, lf, ltitle, ltx, lty, rd, rv, rf, rtitle, rtx, rty,
               lpts, lstyle, rpts, rstyle, vline, vcolor, vdash, lline, lcolor, ldash,
               rline, rcolor, rdash, legend, w, h, lab, off):
    X = alt.X("x:Q", scale=sc(*xd), axis=x_axis(xv, xf, xtitle))
    YL = alt.Y("y:Q", scale=sc(*ld), axis=y_axis(lv, lf, "left", ltitle, ltx, lty))
    YLn = alt.Y("y:Q", scale=sc(*ld), axis=None)
    YR = alt.Y("y:Q", scale=sc(*rd), axis=y_axis(rv, rf, "right", rtitle, rtx, rty))
    left_pts = alt.Chart(pts_df(lpts)).mark_point(filled=True, opacity=1, strokeWidth=0, **lstyle).encode(x=X, y=YL)
    right = alt.layer(
        alt.Chart(pts_df(rpts)).mark_point(filled=True, opacity=1, strokeWidth=0, **rstyle).encode(x=X, y=YR),
        hrule(rline, X, YR, rcolor, rdash),
    )
    lines = [vrule(vline, X, YLn, vcolor, vdash), hrule(lline, X, YLn, lcolor, ldash)]
    if legend is not None:
        lines.append(legend)
    return (alt.layer(left_pts, right, alt.layer(*lines))
            .resolve_scale(y="independent")
            .properties(width=w, height=h, title=plabel(lab, off)))


def col_wrap(chart, text, dx):
    return alt.vconcat(chart, title=alt.TitleParams(text, font=SERIF, fontSize=32, fontWeight="bold",
                                                    color="black", anchor="middle", offset=3, dx=dx))


DIAMOND = dict(shape="diamond", color=SKY, size=50)
YTRI = dict(shape="triangle-up", color=GOLD, size=42)
DOT = dict(shape="circle", color=BLUE, size=42)
SQ = dict(shape="square", color=ORANGE, size=44)

# ---------------- panels ----------------
pa = single_panel(A_PTS, A_VLINE, A_HLINE, (0, 1), [0, 0.2, 0.4, 0.6, 0.8, 1], NUM,
                  (0, 2.5), [0, 0.5, 1, 1.5, 2, 2.5], ".1f", 323, 212, PANEL_LABELS[0], -37,
                  ytitle="Cd", ytx=-104, yty=83, marker=A_MARKER)
pb = single_panel(B_PTS, B_VLINE, B_HLINE, (0, 5), [0, 1, 2, 3, 4, 5], NUM,
                  (0, 3.5), [0, 0.7, 1.4, 2.1, 2.8, 3.5], ".1f", 323, 212, PANEL_LABELS[1], -37,
                  xtitle="As")
pc = single_panel(C_PTS, C_VLINE, C_HLINE, (0, 0.5), [0, 0.1, 0.2, 0.3, 0.4, 0.5], ".1f",
                  (0, 2.5), [0, 0.5, 1, 1.5, 2, 2.5], ".1f", 324, 212, PANEL_LABELS[2], -37)

leg_d = legend_layer(D_LEGEND, [DRED, SKY, SKY, GOLD, GOLD],
                     [dash_path(1.25, 0.75), DIA, dash_path(1.25, 0.75), TRI, dash_path(2.5, 1.0)],
                     174, 7, 6, 16)
leg_g = legend_layer(G_LEGEND, [NAVY, BLUE, BLUE, ORANGE, ORANGE],
                     [dash_path(1.0, 0.5), CIRC, dash_path(1.25, 0.75), SQR, dash_path(2.5, 1.0)],
                     177, 13, 9, 17)

pd_ = dual_panel((0, 1), [0, 0.2, 0.4, 0.6, 0.8, 1], NUM, None,
                 (0, 80), [0, 20, 40, 60, 80], NUM, "Mn", -104, 102,
                 (0, 5), [0, 1, 2, 3, 4, 5], NUM, None, 0, 0,
                 D_MN, DIAMOND, D_NI, YTRI, D_VLINE, DRED, [3, 2], D_MN_LINE, SKY, [5, 3],
                 D_NI_LINE, GOLD, [9, 4], leg_d, 325, 214, PANEL_LABELS[3], -44)
pe = dual_panel((0, 5), [0, 1, 2, 3, 4, 5], NUM, "As",
                (0, 400), [0, 100, 200, 300, 400], NUM, None, 0, 0,
                (0, 20), [0, 5, 10, 15, 20], NUM, None, 0, 0,
                E_MN, DIAMOND, E_NI, YTRI, E_VLINE, DRED, [3, 2], E_MN_LINE, SKY, [5, 3],
                E_NI_LINE, GOLD, [5, 3], None, 321, 214, PANEL_LABELS[4], -44)
pf = dual_panel((0, 0.5), [0, 0.1, 0.2, 0.3, 0.4, 0.5], ".1f", None,
                (0, 50), [0, 10, 20, 30, 40, 50], NUM, None, 0, 0,
                (0, 2.5), [0, 0.5, 1, 1.5, 2, 2.5], ".1f", "Ni", 53, 109,
                F_MN, DIAMOND, F_NI, YTRI, F_VLINE, DRED, [3, 2], F_MN_LINE, SKY, [5, 3],
                F_NI_LINE, GOLD, [5, 3], None, 323, 214, PANEL_LABELS[5], -44)

pg = dual_panel((0, 10), [0, 2, 4, 6, 8, 10], NUM, None,
                (0, 1), [0, 0.2, 0.4, 0.6, 0.8, 1], ".1f", "As", -103, 85,
                (0, 2.5), [0, 0.5, 1, 1.5, 2, 2.5], ".1f", None, 0, 0,
                G_AS, DOT, G_CD, SQ, G_VLINE, NAVY, [4, 2], G_AS_LINE, BLUE, [5, 3],
                G_CD_LINE, ORANGE, [6, 3], leg_g, 322, 211, PANEL_LABELS[6], -39)
ph = dual_panel((0, 20), [0, 4, 8, 12, 16, 20], NUM, "Se",
                (0, 5), [0, 1, 2, 3, 4, 5], NUM, None, 0, 0,
                (0, 5), [0, 1, 2, 3, 4, 5], NUM, None, 0, 0,
                H_AS, DOT, H_CD, SQ, H_VLINE, NAVY, [4, 2], H_AS_LINE, BLUE, [5, 3],
                H_CD_LINE, ORANGE, [6, 3], None, 325, 211, PANEL_LABELS[7], -39)
pi = dual_panel((0, 10), [0, 2, 4, 6, 8, 10], NUM, None,
                (0, 0.5), [0, 0.1, 0.2, 0.3, 0.4, 0.5], ".1f", None, 0, 0,
                (0, 2.5), [0, 0.5, 1, 1.5, 2, 2.5], ".1f", "Cd", 50, 85,
                I_AS, DOT, I_CD, SQ, I_VLINE, NAVY, [4, 2], I_AS_LINE, BLUE, [5, 3],
                I_CD_LINE, ORANGE, [6, 3], None, 324, 211, PANEL_LABELS[8], -39)

row1 = alt.hconcat(col_wrap(pa, COLUMN_TITLES[0], 58), col_wrap(pb, COLUMN_TITLES[1], 43),
                   col_wrap(pc, COLUMN_TITLES[2], 8), spacing=34).resolve_scale(
    color="independent", shape="independent")
row2 = alt.hconcat(pd_, pe, pf, spacing=19).resolve_scale(color="independent", shape="independent")
row3 = alt.hconcat(pg, ph, pi, spacing=24).resolve_scale(color="independent", shape="independent")

chart = (alt.vconcat(row1, row2, row3, spacing=10)
         .resolve_scale(color="independent", shape="independent")
         .configure_view(stroke=AXC, strokeWidth=1.5)
         .configure_axis(labelFont=SERIF, titleFont=SERIF)
         .properties(padding={"left": 5, "top": 3, "right": 0, "bottom": 5}, background="white"))

chart.save("out.html", embed_options={"renderer": "svg", "actions": False})
